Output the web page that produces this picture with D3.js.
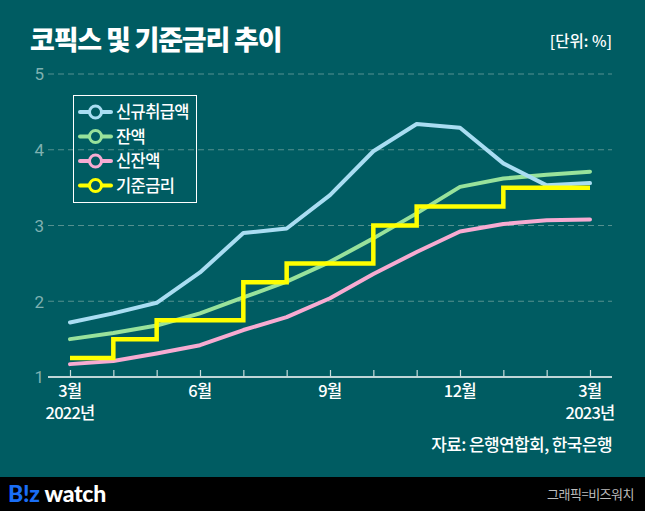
<!DOCTYPE html>
<html><head><meta charset="utf-8">
<script src="https://cdn.jsdelivr.net/npm/d3@7"></script>
<style>
html,body{margin:0;padding:0;background:#005c62;}
svg{display:block;font-family:"Noto Sans CJK KR","Noto Sans",sans-serif;}
</style></head>
<body><svg id="c" width="645" height="511"></svg>
<script>
const months = ["2022-03","2022-04","2022-05","2022-06","2022-07","2022-08","2022-09","2022-10","2022-11","2022-12","2023-01","2023-02","2023-03"];
const tickLabels = ["3월","","","6월","","","9월","","","12월","","","3월"];
const yearLabels = ["2022년","","","","","","","","","","","","2023년"];
const newTx = [1.72,1.84,1.98,2.38,2.90,2.96,3.40,3.98,4.34,4.29,3.82,3.53,3.56];
const balance = [1.50,1.58,1.68,1.84,2.05,2.26,2.52,2.83,3.16,3.51,3.62,3.67,3.71];
const newBalance = [1.17,1.21,1.31,1.42,1.62,1.79,2.04,2.36,2.65,2.92,3.02,3.07,3.08];
const baseRate = [1.25,1.50,1.75,1.75,2.25,2.50,2.50,3.00,3.25,3.25,3.50,3.50,3.50];
const seriesNames = ["신규취급액","잔액","신잔액","기준금리"];
const seriesColors = ["#a9ddf2","#98e29b","#f7abd2","#ffff00"];
const yTicks = [1,2,3,4,5];

const svg = d3.select("#c");
const W = 645, H = 511;
svg.append("rect").attr("width",W).attr("height",H).attr("fill","#005c62");

const x = d3.scaleLinear().domain([0, months.length-1]).range([70, 590]);
const y = d3.scaleLinear().domain([1,5]).range([377, 74]);

// title
svg.append("text").attr("x",30).attr("y",50).attr("fill","#fff")
  .attr("font-size",27).attr("font-weight",900).attr("letter-spacing",-1.2).text("코픽스 및 기준금리 추이");
svg.append("text").attr("x",612).attr("y",47).attr("text-anchor","end").attr("fill","#fff")
  .attr("font-size",15.5).attr("font-weight",500).text("[단위: %]");

// grid
const grid = svg.append("g");
yTicks.filter(d=>d>1).forEach(v=>{
  grid.append("line").attr("x1",48).attr("x2",612).attr("y1",y(v)).attr("y2",y(v))
    .attr("stroke","#55908f").attr("stroke-width",1.2).attr("stroke-dasharray","6,4");
});
const yAxis = d3.axisLeft(y).tickValues(yTicks).tickSize(0).tickPadding(0).tickFormat(d3.format("d"));
const ya = svg.append("g").attr("transform","translate(44,0)").call(yAxis);
ya.select(".domain").remove();
ya.selectAll("text").attr("fill","#7fb1b1").attr("font-size",17).attr("font-family","Roboto, sans-serif").attr("dy","0.35em");

// x axis
svg.append("line").attr("x1",48).attr("x2",612).attr("y1",377).attr("y2",377).attr("stroke","#ffffff").attr("stroke-width",1.5);
const xAxis = d3.axisTop(x).tickValues(d3.range(months.length)).tickSize(7).tickFormat("");
const xa = svg.append("g").attr("transform","translate(0,377)").call(xAxis);
xa.select(".domain").remove();
xa.selectAll("line").attr("stroke","#c8dcdc").attr("stroke-width",1.2);
const xl = svg.append("g");
months.forEach((m,i)=>{
  if (tickLabels[i]) xl.append("text").attr("x",x(i)).attr("y",397).attr("text-anchor","middle").attr("fill","#fff")
    .attr("font-size",16.5).attr("font-weight",500).attr("letter-spacing",-0.5).text(tickLabels[i]);
  if (yearLabels[i]) xl.append("text").attr("x",x(i)).attr("y",419).attr("text-anchor","middle").attr("fill","#fff")
    .attr("font-size",16.5).attr("font-weight",500).attr("letter-spacing",-0.8).text(yearLabels[i]);
});

// lines
const data = [newTx, balance, newBalance];
const line = d3.line().x((d,i)=>x(i)).y(d=>y(d)).curve(d3.curveLinear);
const gl = svg.append("g");
[balance, newBalance, newTx].forEach(arr=>{
  const idx = data.indexOf(arr);
  gl.append("path").attr("d", line(arr)).attr("fill","none").attr("stroke",seriesColors[idx])
    .attr("stroke-width",4).attr("stroke-linecap","round").attr("stroke-linejoin","round");
});
const step = d3.line().x((d,i)=>x(i)).y(d=>y(d)).curve(d3.curveStepAfter);
gl.append("path").attr("d", step(baseRate)).attr("fill","none").attr("stroke",seriesColors[3])
  .attr("stroke-width",4.5).attr("stroke-linejoin","miter");

// legend
const lg = svg.append("g");
lg.append("rect").attr("x",73.5).attr("y",95.5).attr("width",123).attr("height",107)
  .attr("fill","none").attr("stroke","#ffffff").attr("stroke-width",1);
seriesNames.forEach((n,i)=>{
  const cy = 112 + i*24.5;
  lg.append("line").attr("x1",80).attr("x2",111).attr("y1",cy).attr("y2",cy)
    .attr("stroke",seriesColors[i]).attr("stroke-width",4).attr("stroke-linecap","round");
  lg.append("circle").attr("cx",95.5).attr("cy",cy).attr("r",6)
    .attr("fill","#005c62").attr("stroke",seriesColors[i]).attr("stroke-width",3);
  lg.append("text").attr("x",116).attr("y",cy+6).attr("fill","#fff").attr("font-size",16.5)
    .attr("font-weight",500).attr("letter-spacing",-0.6).text(n);
});

// source
svg.append("text").attr("x",612).attr("y",451).attr("text-anchor","end").attr("fill","#fff")
  .attr("font-size",17).attr("font-weight",500).attr("letter-spacing",-0.6).text("자료: 은행연합회, 한국은행");

// footer
svg.append("rect").attr("x",0).attr("y",477).attr("width",W).attr("height",H-477).attr("fill","#000");
const logo = svg.append("text").attr("x",8).attr("y",502).attr("font-size",23).attr("font-weight",900)
  .attr("font-family","Lato, 'Open Sans', sans-serif").attr("letter-spacing",-0.3);
logo.append("tspan").attr("fill","#1a6ef5").text("B!z");
logo.append("tspan").attr("fill","#fff").attr("dx",5).text("watch");
svg.append("text").attr("x",634).attr("y",499).attr("text-anchor","end").attr("fill","#bdbdbd")
  .attr("font-size",13).attr("letter-spacing",-0.5).text("그래픽=비즈워치");
</script></body></html>
